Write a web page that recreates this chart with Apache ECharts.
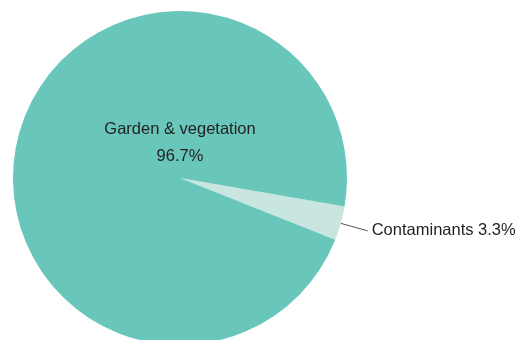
<!DOCTYPE html>
<html><head><meta charset="utf-8">
<script src="https://cdn.jsdelivr.net/npm/echarts@6/dist/echarts.min.js"></script>
<style>html,body{margin:0;padding:0;background:#fff}#c{width:518px;height:340px}</style>
</head><body><div id="c"></div>
<script>
const categories = ['Contaminants', 'Garden & vegetation'];
const values = [3.3, 96.7];
const colors = ['#C8E5DF', '#69C6BB'];

const FONT = '"Liberation Sans", Arial, sans-serif';
const chart = echarts.init(document.getElementById('c'), null, {renderer: 'canvas'});
chart.setOption({
  animation: false,
  series: [{
    type: 'pie',
    center: [180, 178],
    radius: 167,
    startAngle: -9.8,
    clockwise: true,
    avoidLabelOverlap: false,
    data: [
      {
        name: categories[0], value: values[0],
        itemStyle: {color: colors[0]},
        label: {
          show: true, position: 'outside',
          formatter: p => p.name + ' ' + p.value.toFixed(1) + '%',
          fontFamily: FONT, fontSize: 16.5, color: '#231F20', distanceToLabelLine: 4,
          padding: [8, 0, 0, 0]
        },
        labelLine: {show: true, length: 28, length2: 0, lineStyle: {color: '#555', width: 1}}
      },
      {
        name: categories[1], value: values[1],
        itemStyle: {color: colors[1]},
        label: {
          show: true, position: 'center',
          formatter: p => p.name + '\n' + p.value.toFixed(1) + '%',
          fontFamily: FONT, fontSize: 16.5, lineHeight: 27, color: '#231F20',
          offset: [0, -35]
        },
        labelLine: {show: false}
      }
    ]
  }]
});
</script></body></html>
